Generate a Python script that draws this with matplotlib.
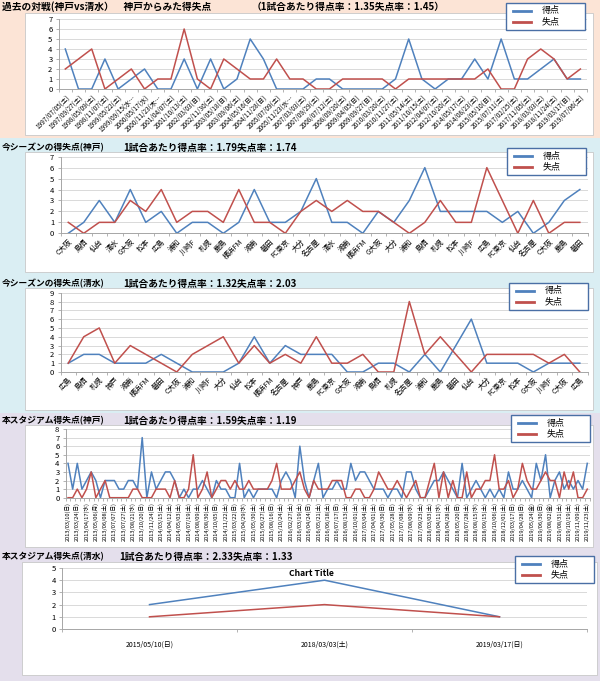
import numpy as np
import matplotlib.pyplot as plt
from matplotlib.patches import Rectangle
from matplotlib.lines import Line2D

plt.rcParams['font.family'] = ['Noto Sans CJK JP', 'DejaVu Sans']

## data: past matches (Kobe vs Shimizu, from Kobe's side)
hist_dates = ['1997/07/05(土)', '1997/09/27(土)', '1998/05/09(土)', '1998/11/07(土)',
              '1999/05/22(土)', '1999/09/15(水…', '2000/05/17(水)', '2000/11/23(木…',
              '2001/04/07(土)', '2001/10/13(土)', '2002/03/03(日)', '2002/11/30(土)',
              '2003/05/18(日)', '2003/09/06(土)', '2004/05/16(日)', '2004/11/28(日)',
              '2005/07/09(土)', '2005/11/23(水…', '2007/03/03(土)', '2007/09/29(土)',
              '2008/07/12(土)', '2008/09/20(土)', '2009/04/05(日)', '2009/09/27(日)',
              '2010/03/20(土)', '2010/11/27(土)', '2011/05/14(土)', '2011/10/15(土)',
              '2012/04/07(土)', '2012/10/20(土)', '2014/05/17(土)', '2014/08/23(土)',
              '2015/05/10(日)', '2015/07/11(土)', '2017/02/25(土)', '2017/11/05(土)',
              '2018/03/03(土)', '2018/11/24(土)', '2019/03/17(日)', '2019/07/06(土)']
hist_for = [4, 0, 0, 3, 0, 1, 2, 0, 0, 3, 0, 3, 0, 1, 5, 3, 0, 0, 0, 1,
            1, 0, 0, 0, 0, 1, 5, 1, 0, 1, 1, 3, 1, 5, 1, 1, 2, 3, 1, 1]
hist_against = [2, 3, 4, 0, 1, 2, 0, 1, 1, 6, 1, 0, 3, 2, 1, 1, 3, 1, 1, 0,
                0, 1, 1, 1, 1, 0, 1, 1, 1, 1, 1, 1, 2, 0, 0, 3, 4, 3, 1, 2]

## this season, Kobe
kobe_opp = ['C大阪', '鳥栖', '仙台', '清水', 'G大阪', '松本', '広島', '浦和', '川崎F',
            '札幌', '鹿島', '横浜FM', '湘南', '磐田', 'FC東京', '大分', '名古屋', '清水',
            '湘南', '横浜FM', 'G大阪', '大分', '浦和', '鳥栖', '札幌', '松本', '川崎F',
            '広島', 'FC東京', '仙台', '名古屋', 'C大阪', '鹿島', '磐田']
kobe_for = [0, 1, 3, 1, 4, 1, 2, 0, 1, 1, 0, 1, 4, 1, 1, 2, 5,
            1, 1, 0, 2, 1, 3, 6, 2, 2, 2, 2, 1, 2, 0, 1, 3, 4]
kobe_against = [1, 0, 1, 1, 3, 2, 4, 1, 2, 2, 1, 4, 1, 1, 0, 2, 3,
                2, 3, 2, 2, 1, 0, 1, 3, 1, 1, 6, 3, 0, 3, 0, 1, 1]

## this season, Shimizu
shim_opp = ['広島', '鳥栖', '札幌', '神戸', '湘南', '横浜FM', '磐田', 'C大阪', '浦和',
            '川崎F', '大分', '仙台', '松本', '横浜FM', '名古屋', '神戸', '鹿島', 'FC東京',
            'G大阪', '湘南', '鳥栖', '札幌', '名古屋', '浦和', '鹿島', '磐田', '仙台',
            '大分', 'FC東京', '松本', 'G大阪', '川崎F', 'C大阪', '広島']
shim_for = [1, 2, 2, 1, 1, 1, 2, 1, 0, 0, 0, 1, 4, 1, 3, 2, 2,
            2, 0, 0, 1, 1, 0, 2, 0, 3, 6, 1, 1, 1, 0, 1, 1, 1]
shim_against = [1, 4, 5, 1, 3, 2, 1, 0, 2, 3, 4, 1, 3, 1, 2, 1, 4,
                1, 1, 2, 0, 0, 8, 2, 4, 2, 0, 2, 2, 2, 2, 1, 2, 0]

## this stadium, Kobe (labels on every other match)
stad_dates = ['2013/03/10(日)', '2013/03/24(日)', '2013/04/17(水)', '2013/05/06(月)',
              '2013/06/08(土)', '2013/07/07(日)', '2013/07/27(土)', '2013/08/21(水)',
              '2013/10/20(日)', '2013/11/24(日)', '2014/03/15(土)', '2014/04/12(土)',
              '2014/05/03(土)', '2014/07/19(土)', '2014/08/09(土)', '2014/08/30(土)',
              '2014/10/05(日)', '2014/11/22(土)', '2015/03/22(日)', '2015/04/29(水)',
              '2015/05/30(土)', '2015/06/27(土)', '2015/08/16(日)', '2015/10/24(土)',
              '2016/02/27(土)', '2016/03/19(土)', '2016/04/24(日)', '2016/05/21(土)',
              '2016/06/18(土)', '2016/07/17(日)', '2016/08/13(土)', '2016/10/01(土)',
              '2017/03/04(土)', '2017/04/01(土)', '2017/04/30(日)', '2017/05/28(日)',
              '2017/07/08(土)', '2017/08/09(水)', '2017/09/23(土)', '2018/03/03(土)',
              '2018/04/11(水)', '2018/04/28(土)', '2018/05/20(日)', '2018/07/28(土)',
              '2018/08/15(水)', '2018/09/15(土)', '2018/10/06(土)', '2018/12/01(土)',
              '2019/03/17(日)', '2019/04/28(日)', '2019/05/24(金)', '2019/06/30(日)',
              '2019/08/02(金)', '2019/08/31(土)', '2019/10/19(土)', '2019/11/09(土)',
              '2019/11/23(土)']
stad_for = [4, 1, 4, 1, 2, 3, 2, 0, 2, 2, 2, 1, 1, 2, 2, 1, 7, 0, 3, 1,
            2, 3, 3, 2, 0, 1, 0, 1, 1, 2, 1, 0, 2, 1, 1, 0, 0, 4, 0, 1,
            0, 1, 1, 1, 1, 0,
            2, 3, 2, 0, 6, 2, 0, 2, 4, 0, 1, 1, 2, 1, 1, 4, 2, 3, 3, 2,
            1, 1, 1, 0, 1, 1, 0, 3, 3, 1, 0, 0, 1, 2, 2, 3, 2, 1, 0, 4,
            0, 1, 2, 1, 0, 1, 0, 1, 0, 3, 1, 1, 2, 1, 0, 4, 2, 5, 0, 2,
            3, 1, 2, 1, 2, 1, 4]
stad_against = [0, 0, 1, 0, 1, 3, 0, 1, 2, 0, 0, 0, 0, 0, 1, 1, 0, 0, 0, 1,
                1, 1, 0, 2, 0, 0, 1, 5, 0, 1, 3, 0, 1, 2, 2, 1, 2, 1, 1, 2,
                1, 1, 1, 1, 2, 4,
                1, 1, 1, 2, 3, 1, 0, 2, 1, 1, 1, 2, 2, 2, 0, 0, 1, 1, 0, 0,
                1, 3, 2, 1, 1, 2, 1, 0, 1, 2, 0, 0, 2, 4, 0, 3, 0, 2, 0, 0,
                3, 0, 1, 1, 2, 2, 5, 1, 1, 2, 0, 1, 4, 2, 1, 1, 2, 3, 2, 2,
                0, 3, 1, 3, 0, 0, 1]

## this stadium, Shimizu
s5_dates = ['2015/05/10(日)', '2018/03/03(土)', '2019/03/17(日)']
s5_for = [2, 4, 1]
s5_against = [1, 2, 1]

W, H = 600, 681
BLUE = '#4F81BD'
RED = '#C0504D'

fig = plt.figure(figsize=(6, 6.81), dpi=100)


def fx(x):
    return x / W


def fy(y):
    return 1 - y / H


def box(x0, y0, x1, y1, fc, ec='none', lw=0.0, z=-10):
    fig.add_artist(Rectangle((fx(x0), fy(y1)), (x1 - x0) / W, (y1 - y0) / H,
                             transform=fig.transFigure, facecolor=fc,
                             edgecolor=ec, linewidth=lw, zorder=z))


def legend_box(x0, y0, w=79, h=27):
    box(x0, y0, x0 + w, y0 + h, 'white', ec='#4A6FA5', lw=1.0, z=5)
    for i, (lab, col) in enumerate([('得点', BLUE), ('失点', RED)]):
        yy = y0 + 8 + 11 * i
        fig.add_artist(Line2D([fx(x0 + 7), fx(x0 + 25)], [fy(yy), fy(yy)],
                              color=col, lw=2.0, transform=fig.transFigure, zorder=6))
        fig.text(fx(x0 + 36), fy(yy), lab, fontsize=6.5, va='center', zorder=6)


def titles(y, left, right, xr=123, fl=6.3):
    fig.text(fx(2), fy(y), left, fontsize=fl, fontweight='bold', va='center')
    fig.text(fx(xr), fy(y), right, fontsize=7.0, fontweight='bold', va='center')


def chart(px, gf, ga, labels, ymax, every=1, rot=45, fs=5.0):
    x0, y0, x1, y1 = px
    ax = fig.add_axes([fx(x0), fy(y1), (x1 - x0) / W, (y1 - y0) / H])
    ax.set_facecolor('none')
    idx = np.arange(len(gf))
    ax.plot(idx, gf, color=BLUE, lw=1.1)
    ax.plot(idx, ga, color=RED, lw=1.1)
    ax.set_xlim(-0.5, len(gf) - 0.5)
    ax.set_ylim(0, ymax)
    ax.set_yticks(range(ymax + 1))
    ax.yaxis.grid(True, color='#D9D9D9', lw=0.7)
    ax.set_axisbelow(True)
    for s in ['top', 'right']:
        ax.spines[s].set_visible(False)
    for s in ['left', 'bottom']:
        ax.spines[s].set_color('#A6A6A6')
        ax.spines[s].set_linewidth(0.7)
    ax.tick_params(axis='y', labelsize=5.5, length=2.5, width=0.6, color='#A6A6A6', pad=2)
    ax.set_xticks(idx[::every])
    if rot == 90:
        ax.set_xticklabels(labels, rotation=90, ha='right', va='center',
                           rotation_mode='anchor', fontsize=fs)
    elif rot == 0:
        ax.set_xticklabels(labels, fontsize=fs)
    else:
        ax.set_xticklabels(labels, rotation=rot, ha='right', va='top',
                           rotation_mode='anchor', fontsize=fs)
    ax.tick_params(axis='x', which='major', length=0, pad=3)
    ax.set_xticks(np.arange(len(gf) + 1) - 0.5, minor=True)
    ax.tick_params(axis='x', which='minor', length=2.5, width=0.6, color='#A6A6A6')
    return ax


## section backgrounds and chart boxes
box(0, 0, 600, 138, '#FCE4D6', z=-20)
box(0, 138, 600, 413, '#DAEEF3', z=-20)
box(0, 413, 600, 681, '#E4DFEC', z=-20)
box(25, 13, 593, 135, 'white', ec='#C8C8C8', lw=0.6, z=-5)
box(25, 152, 593, 272, 'white', ec='#C8C8C8', lw=0.6, z=-5)
box(25, 288, 593, 410, 'white', ec='#C8C8C8', lw=0.6, z=-5)
box(25, 425, 593, 547, 'white', ec='#C8C8C8', lw=0.6, z=-5)
box(22, 562, 597, 675, 'white', ec='#C8C8C8', lw=0.6, z=-5)

## panels
chart((58.7, 19, 587, 89), hist_for, hist_against, hist_dates, 7, fs=4.6)
chart((60.5, 156.7, 587.6, 233.3), kobe_for, kobe_against, kobe_opp, 7, fs=5.2)
chart((60.5, 292.7, 587.6, 372), shim_for, shim_against, shim_opp, 9, fs=5.2)
chart((65.7, 429, 589.6, 497.7), stad_for, stad_against, stad_dates, 8, every=2, rot=90, fs=4.1)
ax5 = chart((62, 568, 587, 629), s5_for, s5_against, s5_dates, 5, rot=0, fs=5.0)
ax5.tick_params(axis='x', which='major', pad=8)
fig.text(fx(311), fy(574), 'Chart Title', fontsize=6.2, fontweight='bold', ha='center', va='center')

## titles
titles(7, '過去の対戦(神戸vs清水）　神戸からみた得失点', '（1試合あたり得点率：1.35失点率：1.45）', xr=252, fl=7.0)
titles(148, '今シーズンの得失点(神戸)', '1試合あたり得点率：1.79失点率：1.74')
titles(284, '今シーズンの得失点(清水)', '1試合あたり得点率：1.32失点率：2.03')
titles(421, '本スタジアム得失点(神戸)', '1試合あたり得点率：1.59失点率：1.19')
titles(557, '本スタジアム得失点(清水)', '1試合あたり得点率：2.33失点率：1.33', xr=119)

## legends
legend_box(506, 3)
legend_box(507, 148)
legend_box(509, 283)
legend_box(511, 415)
legend_box(515, 556)

fig.savefig('out.png', dpi=100)
